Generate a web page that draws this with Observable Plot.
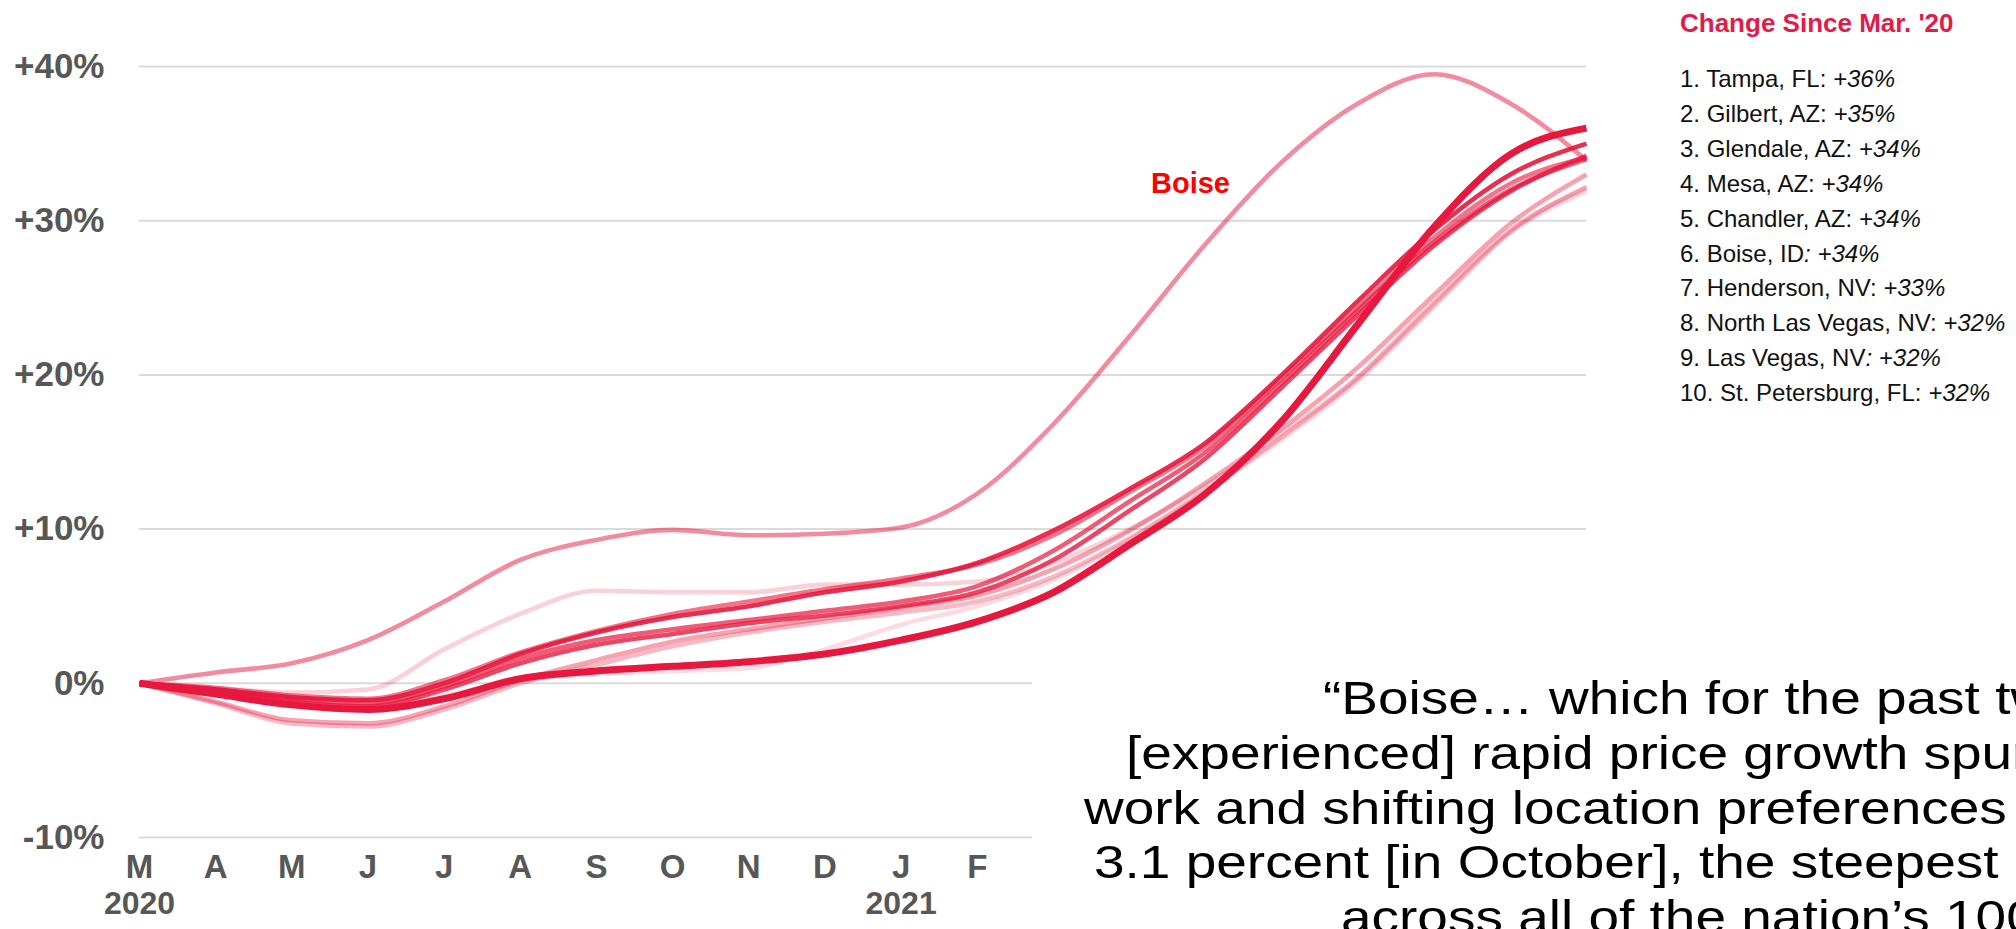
<!DOCTYPE html>
<html>
<head>
<meta charset="utf-8">
<script src="https://cdn.jsdelivr.net/npm/d3@7"></script>
<script src="https://cdn.jsdelivr.net/npm/@observablehq/plot@0.6"></script>
<style>
  html, body { margin: 0; padding: 0; background: #fff; }
  body { width: 2016px; height: 929px; overflow: hidden; position: relative;
         font-family: "Liberation Sans", Arial, Helvetica, sans-serif; }
  #chart { position: absolute; left: 0; top: 0; }
  #legend { position: absolute; left: 1680px; top: 8px; color: #111; }
  #legend .title { font-weight: bold; font-size: 26px; line-height: 30px; color: #e01c4b; margin-bottom: 24px; }
  #legend .item { font-size: 24px; line-height: 34.9px; white-space: nowrap; }
  #quote { position: absolute; left: 1032px; top: 640px; right: 0; bottom: 0; background: #fff; overflow: hidden; }
  #quote div { position: absolute; white-space: nowrap; font-size: 46px; line-height: 54px; color: #000;
               transform: scaleX(1.195); transform-origin: 0 0; }
</style>
</head>
<body>
<div id="chart"></div>
<div id="legend"></div>
<div id="quote"></div>
<script>
// Month tick labels, March 2020 through February 2021
const monthLabels = ["M", "A", "M", "J", "J", "A", "S", "O", "N", "D", "J", "F"];
const yearLabels = [{month: 0, label: "2020"}, {month: 10, label: "2021"}];
const yTicks = [-10, 0, 10, 20, 30, 40];

// Home value change since March 2020 (%), monthly from Mar 2020 to Oct 2021
const tampa      = [0, -0.7, -1.4, -1.7, -1.0, 0.3, 0.8, 1.1, 1.4, 1.9, 2.8, 4.0, 5.9, 9.0, 12.3, 17.0, 23.3, 29.6, 34.3, 36.0];
const gilbert    = [0, -0.4, -0.9, -1.1, 0.0, 1.9, 3.3, 4.3, 5.0, 5.9, 6.6, 7.8, 9.9, 12.6, 15.6, 20.0, 24.8, 29.4, 33.0, 35.0];
const glendale   = [0, -0.5, -1.2, -1.5, -0.4, 1.3, 2.5, 3.2, 3.9, 4.4, 5.0, 5.9, 8.0, 11.2, 14.6, 19.2, 23.9, 28.4, 31.9, 34.2];
const mesa       = [0, -0.4, -1.0, -1.3, -0.2, 1.6, 2.8, 3.5, 4.1, 4.7, 5.3, 6.3, 8.6, 11.8, 15.0, 19.5, 24.2, 28.6, 32.0, 34.0];
const chandler   = [0, -0.3, -0.8, -1.0, 0.2, 2.0, 3.4, 4.5, 5.3, 6.1, 6.8, 7.7, 9.6, 12.4, 15.4, 19.8, 24.4, 28.9, 32.4, 34.1];
const boise      = [0, 0.7, 1.3, 2.8, 5.3, 8.0, 9.3, 9.95, 9.6, 9.7, 10.1, 12.3, 16.8, 22.5, 28.5, 33.8, 37.6, 39.5, 37.6, 33.9];
const henderson  = [0, -1.2, -2.4, -2.6, -1.5, 0.2, 1.5, 2.7, 3.5, 4.2, 4.9, 5.7, 7.4, 9.9, 13.0, 16.5, 20.5, 25.2, 29.8, 33.0];
const northLV    = [0, -1.3, -2.6, -2.8, -1.7, 0.0, 1.2, 2.4, 3.3, 4.0, 4.6, 5.3, 6.9, 9.4, 12.5, 16.0, 19.8, 24.6, 29.3, 32.2];
const lasVegas   = [0, -0.3, -0.6, -0.4, 2.2, 4.5, 6.0, 5.9, 5.9, 6.4, 6.4, 6.6, 7.8, 10.0, 12.8, 16.2, 19.9, 24.8, 29.4, 32.1];
const stPete     = [0, -0.5, -1.2, -1.5, -0.8, 0.2, 0.6, 0.8, 1.0, 2.2, 3.8, 5.0, 6.7, 9.3, 12.4, 15.8, 19.6, 24.4, 29.2, 31.9];

// Ranked cities with their total change since March 2020
const cityNames = ["Tampa, FL", "Gilbert, AZ", "Glendale, AZ", "Mesa, AZ", "Chandler, AZ",
                   "Boise, ID", "Henderson, NV", "North Las Vegas, NV", "Las Vegas, NV", "St. Petersburg, FL"];
const cityChange = [36, 35, 34, 34, 34, 34, 33, 32, 32, 32];
const cityValues = [tampa, gilbert, glendale, mesa, chandler, boise, henderson, northLV, lasVegas, stPete];

// Annotation for the Boise line
const boiseNote = [{month: 13.8, value: 32.4, text: "Boise"}];

const crimson = "#e8173d";
const series = cityNames.map((name, k) => ({
  name, rank: k + 1,
  rows: cityValues[k].map((v, i) => ({month: i, value: v}))
}));

// Higher-ranked cities are drawn darker and on top
const lineMarks = series.slice().reverse().map(s => Plot.line(s.rows, {
  x: "month", y: "value",
  stroke: crimson,
  strokeOpacity: Math.max(0.15, 1 - (s.rank - 1) * 0.1),
  strokeWidth: s.rank === 1 ? 7 : 4.6,
  strokeLinecap: "butt",
  curve: "monotone-x"
}));

const plot = Plot.plot({
  width: 1600,
  height: 929,
  marginLeft: 139,
  marginRight: 14,
  marginTop: 66,
  marginBottom: 92,
  x: {domain: [0, 19], axis: null},
  y: {domain: [-10, 40], axis: null},
  style: {background: "transparent", fontFamily: "'Liberation Sans', Arial, Helvetica, sans-serif"},
  marks: [
    Plot.ruleY(yTicks, {x1: 0, x2: 19, stroke: "#dadada", strokeWidth: 2}),
    Plot.text(yTicks, {
      x: () => 0, y: d => d,
      text: d => (d > 0 ? "+" : "") + d + "%",
      textAnchor: "end", dx: -35,
      fontSize: 35, fontWeight: "bold", fill: "#575757"
    }),
    Plot.text(monthLabels, {
      x: (d, i) => i, text: d => d, frameAnchor: "bottom", dy: 40,
      fontSize: 33, fontWeight: "bold", fill: "#575757"
    }),
    Plot.text(yearLabels, {
      x: "month", text: "label", frameAnchor: "bottom", dy: 76,
      fontSize: 32, fontWeight: "bold", fill: "#575757"
    }),
    ...lineMarks,
    Plot.text(boiseNote, {
      x: "month", y: "value", text: "text",
      fontSize: 29, fontWeight: "bold", fill: "#ff0000"
    })
  ]
});
document.getElementById("chart").append(plot);

// Ranked list to the right of the chart
const legend = document.getElementById("legend");
const title = document.createElement("div");
title.className = "title";
title.textContent = "Change Since Mar. '20";
legend.append(title);
cityNames.forEach((name, k) => {
  const item = document.createElement("div");
  item.className = "item";
  const pct = "+" + cityChange[k] + "%";
  if (name === "Boise, ID" || name === "Las Vegas, NV") {
    item.innerHTML = `${k + 1}. ${name}<i>: ${pct}</i>`;
  } else {
    item.innerHTML = `${k + 1}. ${name}: <i>${pct}</i>`;
  }
  legend.append(item);
});

// Quotation block in the lower right (baselines in page pixels)
const quoteLines = [
  {left: 1323, baseline: 714, text: "\u201cBoise\u2026 which for the past two"},
  {left: 1126, baseline: 769, text: "[experienced] rapid price growth spurred"},
  {left: 1084, baseline: 824, text: "work and shifting location preferences"},
  {left: 1094, baseline: 878, text: "3.1 percent [in October], the steepest"},
  {left: 1341, baseline: 933, text: "across all of the nation\u2019s 100"}
];
const quote = document.getElementById("quote");
quoteLines.forEach(q => {
  const d = document.createElement("div");
  d.style.left = (q.left - 1032) + "px";
  d.style.top = (q.baseline - 42.9 - 640) + "px";
  d.textContent = q.text;
  quote.append(d);
});
</script>
</body>
</html>
